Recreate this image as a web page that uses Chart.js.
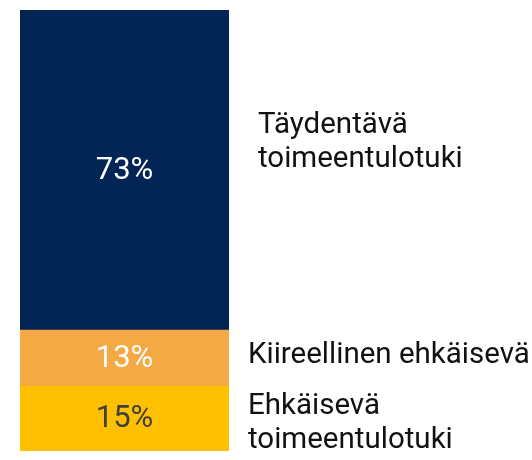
<!DOCTYPE html>
<html>
<head>
<meta charset="utf-8">
<script src="https://cdn.jsdelivr.net/npm/chart.js@4"></script>
<style>
  html, body { margin: 0; padding: 0; background: #fff; }
  #wrap { width: 532px; height: 460px; }
</style>
</head>
<body>
<div id="wrap"><canvas id="chart"></canvas></div>
<script>
const categories = [''];
const seriesNames = [['Ehkäisevä', 'toimeentulotuki'], ['Kiireellinen ehkäisevä'], ['Täydentävä', 'toimeentulotuki']];
const seriesValues = [14.7, 12.7, 72.6];
const seriesColors = ['#fec000', '#f5a945', '#022555'];
const valueColors = ['#404040', '#ffffff', '#ffffff'];

const FONT = 'Roboto, "Noto Sans", sans-serif';

// labels inside the bar and names to the right of it
const segmentLabels = {
  id: 'segmentLabels',
  afterDatasetsDraw(chart) {
    const ctx = chart.ctx;
    ctx.save();
    chart.data.datasets.forEach((ds, i) => {
      const bar = chart.getDatasetMeta(i).data[0];
      const top = Math.min(bar.y, bar.base), bottom = Math.max(bar.y, bar.base);
      const mid = (top + bottom) / 2;

      ctx.font = '31px ' + FONT;
      ctx.textAlign = 'center';
      ctx.textBaseline = 'middle';
      ctx.fillStyle = valueColors[i];
      ctx.fillText(Math.round(ds.data[0]) + '%', bar.x, mid + 1);

      const lines = seriesNames[i];
      const lh = 34;
      const shift = i === 2 ? -27 : (i === 1 ? -3 : 5);
      const x = bar.x + bar.width / 2 + (i === 2 ? 29 : 19);
      let y = mid + shift - (lines.length - 1) * lh / 2;
      ctx.font = '29.5px ' + FONT;
      ctx.textAlign = 'left';
      ctx.fillStyle = '#111111';
      lines.forEach(l => { ctx.fillText(l, x, y); y += lh; });
    });
    ctx.restore();
  }
};

new Chart(document.getElementById('chart'), {
  type: 'bar',
  data: {
    labels: categories,
    datasets: seriesValues.map((v, i) => ({
      label: seriesNames[i].join(' '),
      data: [v],
      backgroundColor: seriesColors[i],
      borderWidth: 0,
      barPercentage: 1,
      categoryPercentage: 1,
    }))
  },
  options: {
    responsive: true,
    maintainAspectRatio: false,
    animation: false,
    layout: { padding: { top: 10, bottom: 9, left: 20, right: 303 } },
    plugins: {
      legend: { display: false },
      tooltip: { enabled: false }
    },
    scales: {
      x: { stacked: true, display: false },
      y: { stacked: true, display: false, min: 0, max: 100 }
    }
  },
  plugins: [segmentLabels]
});
</script>
</body>
</html>
